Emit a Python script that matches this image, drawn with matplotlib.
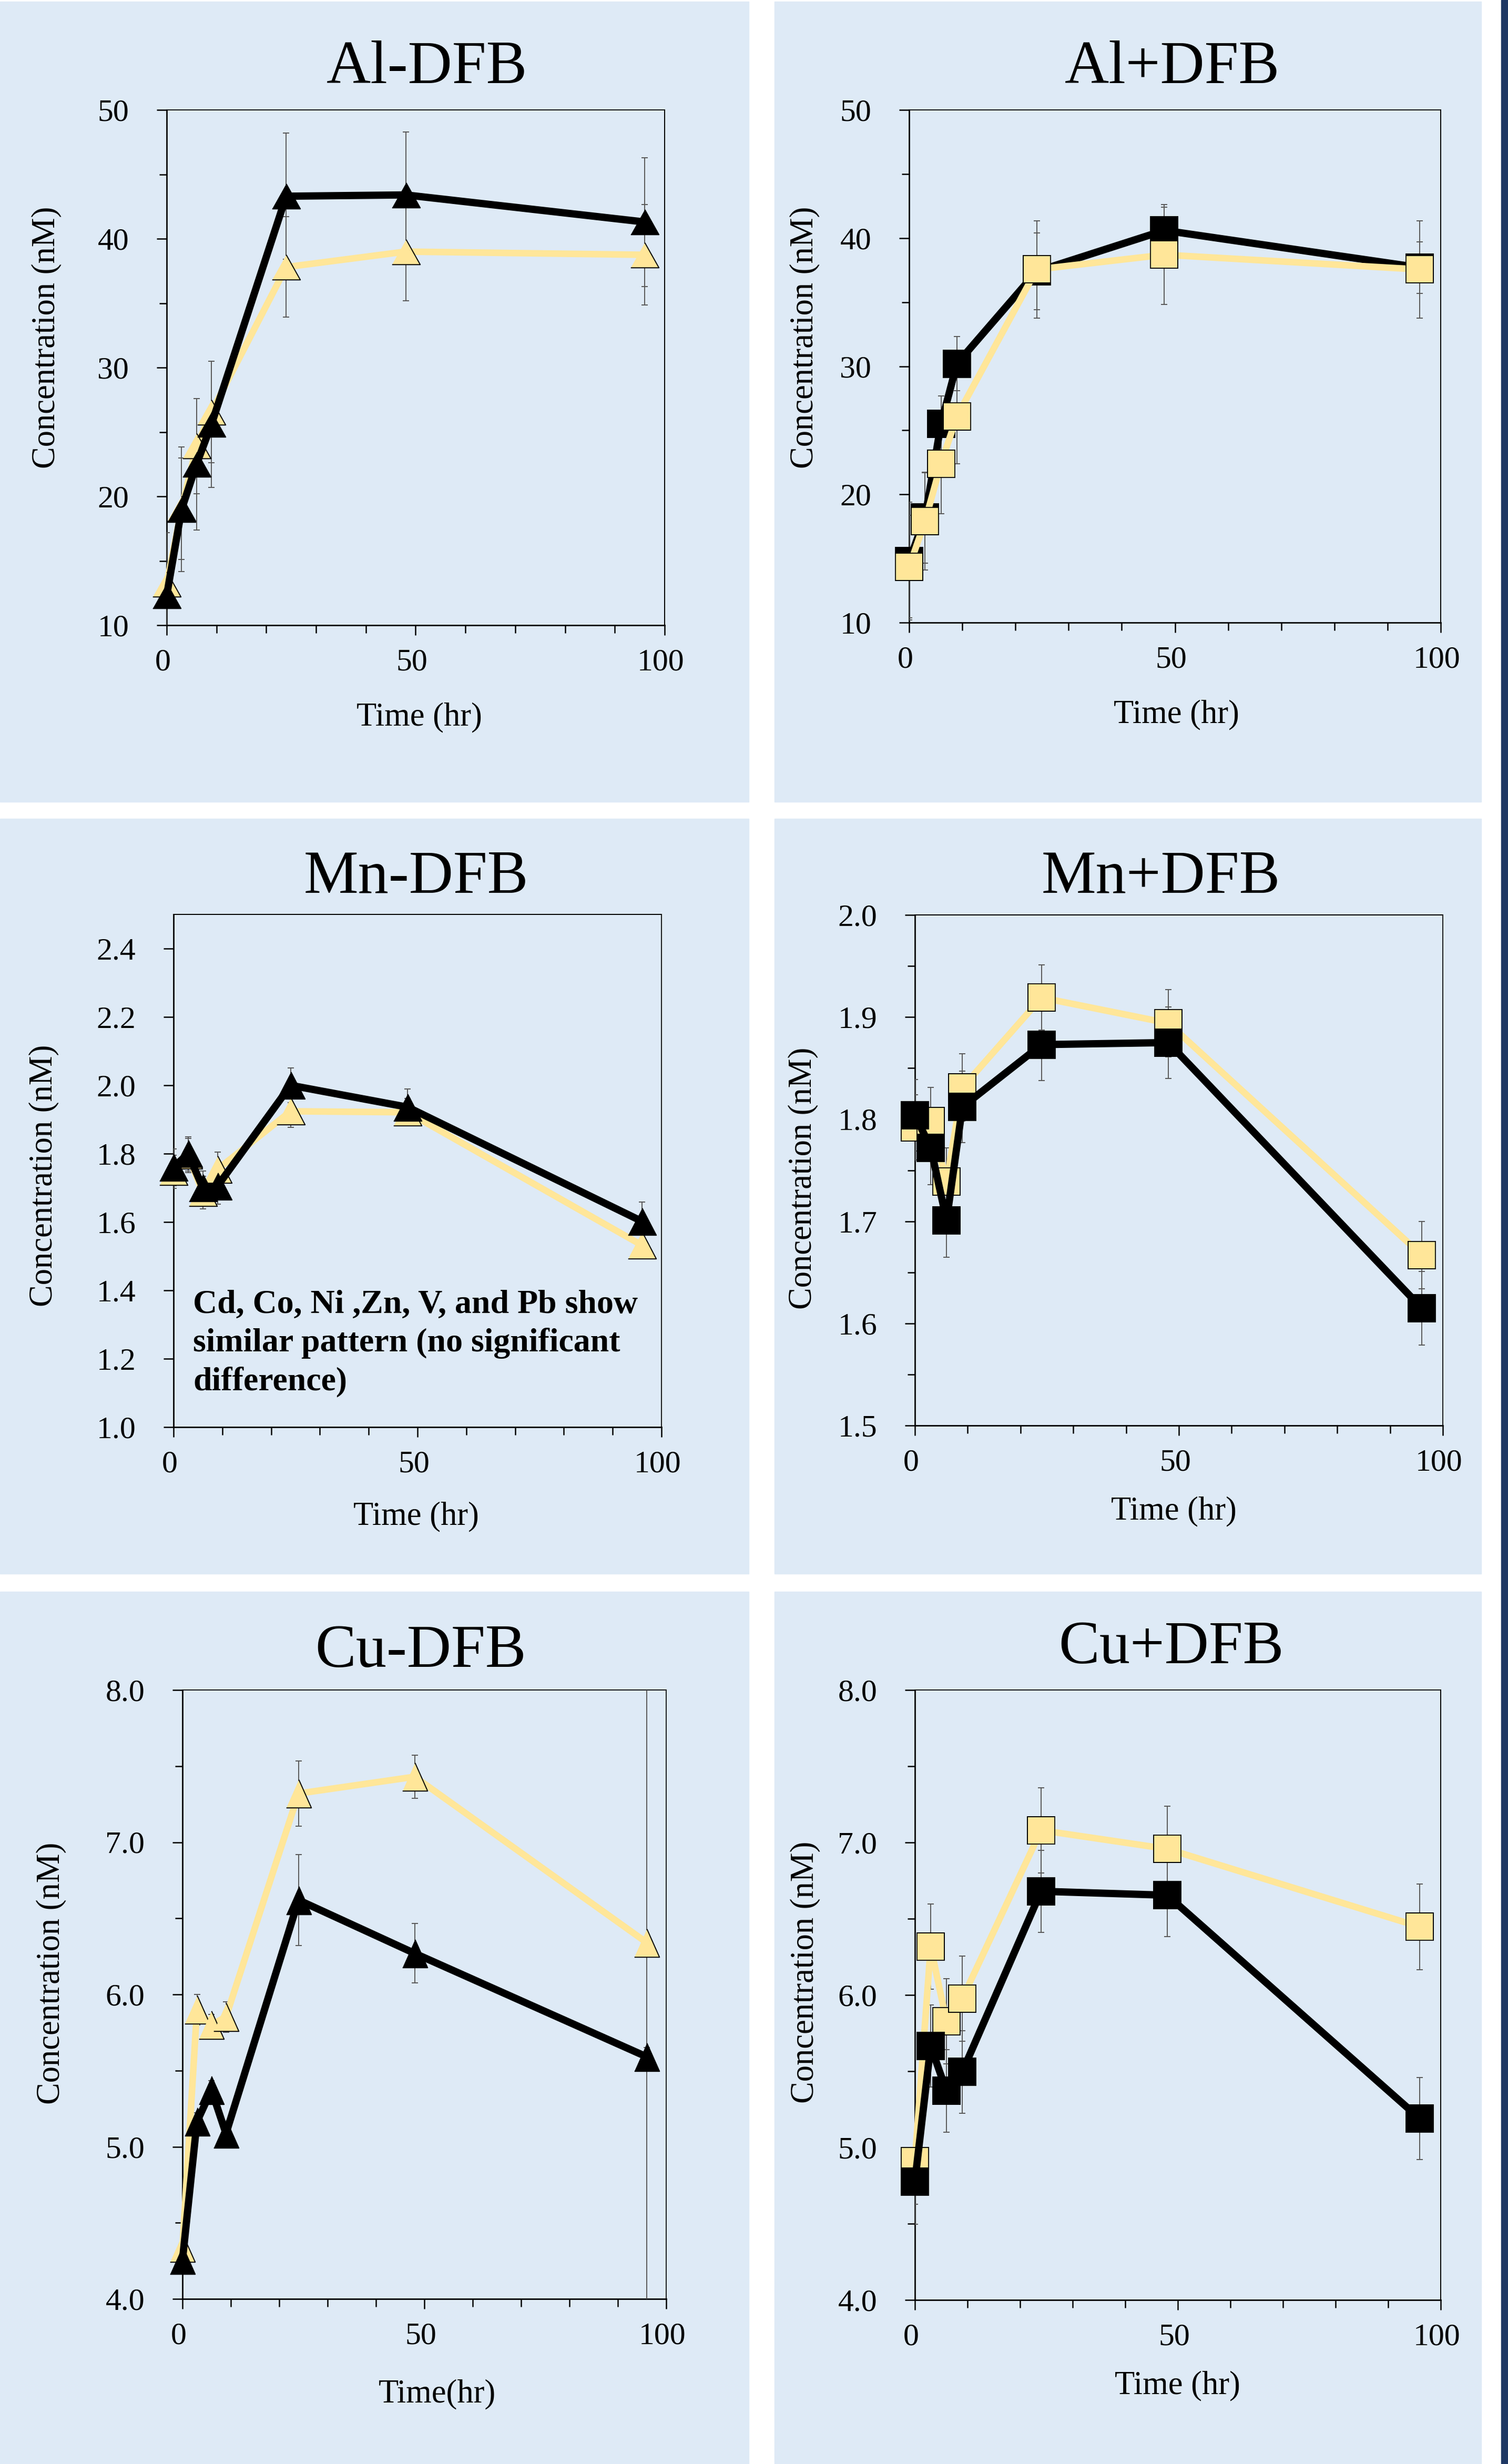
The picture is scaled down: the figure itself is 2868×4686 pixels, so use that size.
import matplotlib
matplotlib.use('Agg')
import matplotlib.pyplot as plt
from matplotlib.patches import Rectangle
from matplotlib.ticker import MultipleLocator, FormatStrFormatter
from matplotlib.transforms import ScaledTranslation

plt.rcParams['font.family'] = ['Liberation Serif', 'DejaVu Serif']

W, H = 2868, 4686
DPI = 100

# sampling times (hr)
time_hr = [0, 3, 6, 9, 24, 48, 96]

# Al
al_minus_black = [12.3, 19.0, 22.5, 25.6, 43.3, 43.4, 41.3]
al_minus_black_err = [4.9, 4.85, 5.1, 4.9, 4.9, 4.9, 5.0]
al_minus_yellow = [13.2, 19.05, 23.9, 26.55, 37.8, 39.0, 38.75]
al_minus_yellow_err = [4.0, 3.95, 3.7, 3.95, 3.9, 3.8, 3.9]
al_plus_black = [14.8, 18.2, 25.5, 30.2, 37.4, 40.6, 37.7]
al_plus_black_err = [4.6, 3.55, 2.2, 2.1, 3.0, 1.8, 2.0]
al_plus_yellow = [14.35, 17.9, 22.4, 26.1, 37.55, 38.7, 37.55]
al_plus_yellow_err = [4.0, 3.8, 3.9, 3.7, 3.8, 3.9, 3.8]

# Mn
mn_minus_black = [1.76, 1.80, 1.70, 1.705, 2.0, 1.936, 1.602]
mn_minus_black_err = [0.054, 0.05, 0.05, 0.053, 0.05, 0.054, 0.056]
mn_minus_yellow = [1.747, 1.795, 1.686, 1.754, 1.924, 1.921, 1.532]
mn_minus_yellow_err = [0.048, 0.05, 0.048, 0.05, 0.047, 0.04, 0.04]
mn_plus_black = [1.804, 1.772, 1.701, 1.812, 1.873, 1.875, 1.615]
mn_plus_black_err = [0.035, 0.036, 0.036, 0.035, 0.035, 0.035, 0.036]
mn_plus_yellow = [1.792, 1.798, 1.739, 1.831, 1.919, 1.894, 1.667]
mn_plus_yellow_err = [0.032, 0.033, 0.033, 0.033, 0.032, 0.033, 0.033]

# Cu
cu_minus_black = [4.254, 5.164, 5.372, 5.086, 6.62, 6.27, 5.59]
cu_minus_black_err = [0.06, 0.06, 0.06, 0.06, 0.30, 0.195, 0.06]
cu_minus_yellow = [4.336, 5.90, 5.80, 5.853, 7.32, 7.43, 6.34]
cu_minus_yellow_err = [0.08, 0.1, 0.07, 0.1, 0.215, 0.14, 2.5]
cu_plus_black = [4.777, 5.665, 5.371, 5.495, 6.68, 6.654, 5.19]
cu_plus_black_err = [0.28, 0.27, 0.27, 0.27, 0.27, 0.27, 0.27]
cu_plus_yellow = [4.909, 6.318, 5.827, 5.975, 7.08, 6.958, 6.447]
cu_plus_yellow_err = [0.28, 0.28, 0.28, 0.28, 0.28, 0.28, 0.28]

note = 'Cd, Co, Ni ,Zn, V, and Pb show\nsimilar pattern (no significant\ndifference)'

YELLOW = '#FFE699'
BG = '#DEEAF6'
NAVY = '#1F3864'
ERR = '#595959'


def tri(w, h):
    # triangle marker with a given width/height ratio (pasted charts are stretched)
    return [(-w / 2, -h / 2), (w / 2, -h / 2), (0, h / 2)]


def fx(px):
    return px / W


def fy(py):
    return 1 - py / H


fig = plt.figure(figsize=(W / DPI, H / DPI), dpi=DPI)

for x0, x1 in [(0, 1424), (1473, 2817)]:
    for y0, y1 in [(3, 1525), (1557, 2993), (3027, 4686)]:
        fig.patches.append(Rectangle((fx(x0), fy(y1)), fx(x1) - fx(x0), fy(y0) - fy(y1),
                                     transform=fig.transFigure, color=BG, zorder=-2))
fig.patches.append(Rectangle((fx(2855), 0), fx(13), 1, transform=fig.transFigure,
                             color=NAVY, zorder=-2))

shift_left = ScaledTranslation(-7 / DPI, 0, fig.dpi_scale_trans)


def panel(box, title, title_pos, xlab, xlab_pos, ylab_pos, marker, ms,
          black, black_err, yel, yel_err, ylim, major, minor, fmt, yellow_top=False):
    left, right, top, bottom = box
    ax = fig.add_axes([fx(left), fy(bottom), fx(right) - fx(left), fy(top) - fy(bottom)])
    ax.set_facecolor('none')

    ax.errorbar(time_hr, yel, yerr=yel_err, fmt='none', ecolor=ERR, elinewidth=1.4,
                capsize=4.5, capthick=1.4, zorder=2.6)
    ax.errorbar(time_hr, black, yerr=black_err, fmt='none', ecolor=ERR, elinewidth=1.4,
                capsize=4.5, capthick=1.4, zorder=2.6)

    zy, zb = (5, 4) if yellow_top else (4, 5)
    ax.plot(time_hr, yel, color=YELLOW, lw=9, marker=marker, ms=ms, mfc=YELLOW,
            mec='black', mew=1.4, clip_on=False, zorder=zy)
    ax.plot(time_hr, black, color='black', lw=10, marker=marker, ms=ms, mfc='black',
            mec='black', mew=1.4, clip_on=False, zorder=zb)

    ax.set_xlim(0, 100)
    ax.set_ylim(*ylim)
    ax.xaxis.set_major_locator(MultipleLocator(50))
    ax.xaxis.set_minor_locator(MultipleLocator(10))
    ax.yaxis.set_major_locator(MultipleLocator(major))
    if minor:
        ax.yaxis.set_minor_locator(MultipleLocator(minor))
    else:
        ax.yaxis.set_minor_locator(plt.NullLocator())
    ax.yaxis.set_major_formatter(FormatStrFormatter(fmt))

    ax.tick_params(axis='both', which='both', direction='out', width=1.8, color='black',
                   labelsize=43)
    ax.tick_params(axis='y', which='major', length=13.7, pad=38)
    ax.tick_params(axis='y', which='minor', length=10)
    ax.tick_params(axis='x', which='major', length=13.7, pad=18)
    ax.tick_params(axis='x', which='minor', length=11)
    for lab in ax.xaxis.get_majorticklabels():
        lab.set_transform(lab.get_transform() + shift_left)

    for side in ['left', 'bottom']:
        ax.spines[side].set_linewidth(2.0)
    for side in ['top', 'right']:
        ax.spines[side].set_linewidth(1.4)

    fig.text(fx(title_pos[0]), fy(title_pos[1]), title, fontsize=84,
             ha='center', va='baseline')
    fig.text(fx(xlab_pos[0]), fy(xlab_pos[1]), xlab, fontsize=45,
             ha='center', va='baseline')
    fig.text(fx(ylab_pos[0]), fy(ylab_pos[1]), 'Concentration (nM)', fontsize=45,
             rotation=90, ha='center', va='center')
    return ax


panel((317, 1264, 209, 1189), 'Al-DFB', (812, 158), 'Time (hr)', (797, 1379), (88, 642),
      tri(1.0, 0.89), 38.5, al_minus_black, al_minus_black_err, al_minus_yellow,
      al_minus_yellow_err, (10, 50), 10, 5, '%d')
panel((1729, 2740, 209, 1184), 'Al+DFB', (2230, 158), 'Time (hr)', (2237, 1374), (1530, 642),
      's', 38, al_plus_black, al_plus_black_err, al_plus_yellow, al_plus_yellow_err,
      (10, 50), 10, 5, '%d', yellow_top=True)
panel((330, 1258, 1739, 2714), 'Mn-DFB', (791, 1698), 'Time (hr)', (791, 2899), (83, 2236),
      tri(1.0, 0.96), 38.5, mn_minus_black, mn_minus_black_err, mn_minus_yellow,
      mn_minus_yellow_err, (1.0, 2.5), 0.2, None, '%.1f')
panel((1740, 2744, 1740, 2711), 'Mn+DFB', (2208, 1698), 'Time (hr)', (2232, 2889), (1527, 2241),
      's', 38, mn_plus_black, mn_plus_black_err, mn_plus_yellow, mn_plus_yellow_err,
      (1.5, 2.0), 0.1, 0.05, '%.1f')
panel((347, 1267, 3214, 4372), 'Cu-DFB', (800, 3170), 'Time(hr)', (832, 4568), (97, 3753),
      tri(0.89, 1.0), 38.5, cu_minus_black, cu_minus_black_err, cu_minus_yellow,
      cu_minus_yellow_err, (4.0, 8.0), 1.0, 0.5, '%.1f')
panel((1740, 2740, 3214, 4374), 'Cu+DFB', (2228, 3163), 'Time (hr)', (2239, 4552), (1531, 3751),
      's', 38, cu_plus_black, cu_plus_black_err, cu_plus_yellow, cu_plus_yellow_err,
      (4.0, 8.0), 1.0, 0.5, '%.1f')

# multi-line text: baseline alignment goes to the last line
fig.text(fx(367), fy(2643), note, fontsize=46, fontweight='bold', ha='left',
         va='baseline', linespacing=1.32)

fig.savefig('out.png', dpi=DPI)
